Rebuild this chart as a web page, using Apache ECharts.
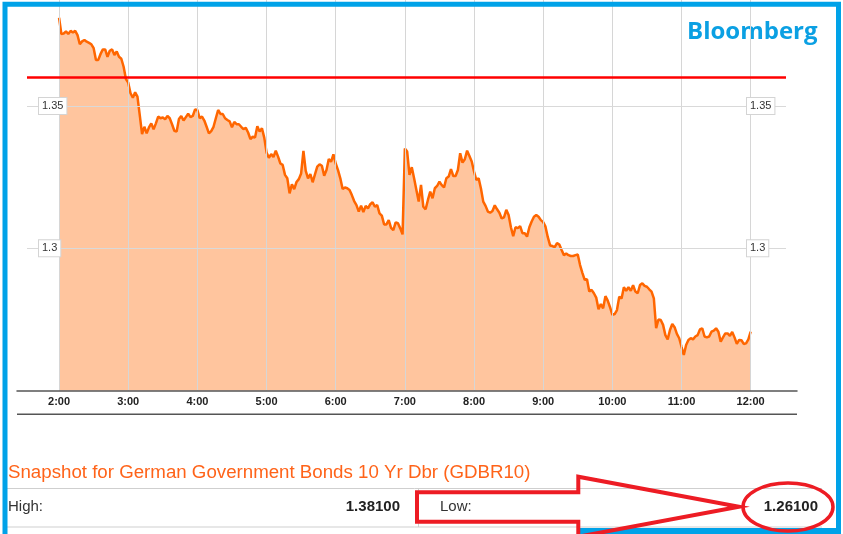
<!DOCTYPE html>
<html><head><meta charset="utf-8">
<script src="https://cdn.jsdelivr.net/npm/echarts@6/dist/echarts.min.js"></script>
<style>html,body{margin:0;padding:0;background:#fff;}#c{width:843px;height:534px;}</style>
</head><body><div id="c"></div>
<script>
// ---- data ----
const startMinute = 120;   // 2:00
const stepMinutes = 2;
const yields = [
1.3810,1.3753,1.3755,1.3762,1.3753,1.3764,1.3758,1.3764,1.3749,1.3717,
1.3727,1.3732,1.3726,1.3722,1.3717,1.3703,1.3662,1.3662,1.3683,1.3699,
1.3699,1.3673,1.3694,1.3699,1.3679,1.3692,1.3673,1.3666,1.3638,1.3595,
1.3582,1.3545,1.3529,1.3548,1.3533,1.3468,1.3401,1.3427,1.3404,1.3425,
1.3439,1.3418,1.3439,1.3463,1.3457,1.3460,1.3453,1.3465,1.3457,1.3436,
1.3413,1.3410,1.3454,1.3465,1.3449,1.3461,1.3473,1.3461,1.3465,1.3488,
1.3486,1.3457,1.3463,1.3449,1.3427,1.3404,1.3412,1.3427,1.3457,1.3486,
1.3472,1.3472,1.3457,1.3451,1.3446,1.3425,1.3444,1.3436,
1.3436,1.3427,1.3419,1.3423,1.3407,1.3384,1.3392,1.3389,1.3429,1.3410,
1.3422,1.3389,1.3337,1.3318,1.3331,1.3321,1.3343,1.3322,1.3298,1.3293,
1.3258,1.3246,1.3193,1.3225,1.3208,1.3233,1.3243,1.3263,1.3342,1.3272,
1.3246,1.3261,1.3232,1.3260,1.3287,1.3295,1.3290,1.3255,1.3275,1.3314,
1.3304,1.3330,1.3298,1.3275,1.3246,1.3208,1.3214,1.3211,1.3205,1.3187,
1.3166,1.3152,1.3129,1.3150,1.3127,1.3149,1.3140,1.3155,1.3162,1.3146,
1.3152,1.3123,1.3115,1.3084,1.3084,1.3099,1.3072,1.3064,1.3091,1.3088,
1.3070,1.3049,1.3351,
1.3340,1.3258,1.3285,1.3246,1.3205,1.3164,1.3223,1.3146,1.3137,1.3170,
1.3199,1.3176,1.3211,1.3219,1.3234,1.3222,1.3214,1.3246,1.3252,1.3278,
1.3254,1.3254,1.3275,1.3334,1.3301,1.3313,1.3343,1.3324,1.3305,1.3270,
1.3240,1.3246,1.3210,1.3164,1.3149,1.3129,1.3125,1.3131,1.3151,1.3137,
1.3125,1.3105,1.3109,1.3135,1.3117,1.3074,1.3043,1.3074,1.3071,1.3078,
1.3053,1.3053,1.3041,1.3074,1.3094,1.3111,1.3117,1.3111,1.3099,1.3092,
1.3076,1.3039,1.3010,1.3008,1.3004,1.3018,1.3013,1.2994,1.2976,1.2982,
1.2976,1.2973,1.2973,
1.2976,1.2978,1.2941,1.2914,1.2889,1.2891,1.2848,1.2854,1.2842,1.2827,
1.2786,1.2804,1.2789,1.2832,1.2816,1.2793,1.2766,1.2769,1.2783,1.2830,
1.2824,1.2863,1.2851,1.2863,1.2851,1.2870,1.2848,1.2842,1.2871,1.2877,
1.2868,1.2865,1.2856,1.2848,1.2824,1.2719,1.2750,1.2748,1.2731,1.2695,
1.2680,1.2713,1.2734,1.2723,1.2699,1.2684,1.2654,1.2625,1.2660,1.2678,
1.2684,1.2680,1.2690,1.2695,1.2715,1.2719,1.2690,1.2687,1.2690,1.2707,
1.2711,1.2719,1.2707,1.2672,1.2687,1.2701,1.2701,1.2692,1.2706,1.2687,
1.2664,1.2678,1.2677,1.2664,1.2666,1.2680,1.2707
];
const hourTicks = [120,180,240,300,360,420,480,540,600,660,720];
const hourLabels = ['2:00','3:00','4:00','5:00','6:00','7:00','8:00','9:00','10:00','11:00','12:00'];
const yTicks = [1.3, 1.35];
const refLevel = 1.36;
const snapshotTitle = 'Snapshot for German Government Bonds 10 Yr Dbr (GDBR10)';
const highLabel = 'High:', highValue = '1.38100';
const lowLabel = 'Low:', lowValue = '1.26100';
const brand = 'Bloomberg';

// ---- chart ----
const font = "'Liberation Sans', Arial, sans-serif";
const seriesData = yields.map((v, i) => [startMinute + i * stepMinutes, v]);
const chart = echarts.init(document.getElementById('c'), null, {renderer: 'canvas'});
const yMin = 1.25, yMax = 1.38725;
const yLabelStyle = {
  inside: true, customValues: yTicks,
  color: '#333', fontSize: 11, fontFamily: font,
  backgroundColor: '#fff', borderColor: '#d4d4d4', borderWidth: 1, padding: [3, 3, 2, 3]
};
const red = '#ed1c24';
chart.setOption({
  animation: false,
  grid: [
    {left: 17, right: 46, top: 0, bottom: 143.4},
    {left: 27, right: 57, top: 0, bottom: 143.4}
  ],
  xAxis: [
    {gridIndex: 0, type: 'value', min: 83.5, max: 760.2, z: 4,
     axisLine: {show: true, lineStyle: {color: '#555', width: 1.5}},
     axisTick: {show: false, customValues: hourTicks},
     axisLabel: {customValues: hourTicks, formatter: v => hourLabels[hourTicks.indexOf(v)],
       color: '#222', fontWeight: 'bold', fontSize: 11, fontFamily: font, margin: 6},
     splitLine: {show: true, lineStyle: {color: '#d6d6d6', width: 1}}},
    {gridIndex: 1, type: 'value', min: 0, max: 1, show: false}
  ],
  yAxis: [
    {gridIndex: 0, type: 'value', min: yMin, max: yMax, show: false, splitLine: {show: false}},
    {gridIndex: 1, type: 'value', min: yMin, max: yMax, position: 'left', z: 8,
     axisLine: {show: false}, axisTick: {show: false, customValues: yTicks},
     axisLabel: Object.assign({margin: 12}, yLabelStyle),
     splitLine: {show: true, lineStyle: {color: '#d9d9d9', width: 1}}},
    {gridIndex: 1, type: 'value', min: yMin, max: yMax, position: 'right', z: 8,
     axisLine: {show: false}, axisTick: {show: false, customValues: yTicks},
     axisLabel: Object.assign({margin: 39, align: 'left'}, yLabelStyle),
     splitLine: {show: false}}
  ],
  series: [
    {type: 'line', xAxisIndex: 0, yAxisIndex: 0, data: seriesData, showSymbol: false, z: 3,
     lineStyle: {color: '#ff6600', width: 2.5},
     areaStyle: {color: '#ff6600', opacity: 0.38, origin: 'start'}},
    {type: 'line', xAxisIndex: 1, yAxisIndex: 1, data: [[0, refLevel], [1, refLevel]],
     showSymbol: false, z: 5, lineStyle: {color: '#ff0000', width: 2.5}}
  ],
  graphic: [
    {type: 'line', shape: {x1: 17, y1: 414.3, x2: 797, y2: 414.3}, style: {stroke: '#555', lineWidth: 1.5}},
    {type: 'text', left: 687, top: 20, style: {text: brand, fill: '#0ba0e3', font: "bold 24px 'Open Sans', sans-serif"}},
    {type: 'text', left: 8, top: 463, style: {text: snapshotTitle, fill: '#ff6319', font: "18.7px " + font}},
    {type: 'line', shape: {x1: 7, y1: 488.5, x2: 822, y2: 488.5}, style: {stroke: '#cfcfcf', lineWidth: 1}},
    {type: 'line', shape: {x1: 7, y1: 527, x2: 822, y2: 527}, style: {stroke: '#cfcfcf', lineWidth: 1}},
    {type: 'line', shape: {x1: 418.5, y1: 488.5, x2: 418.5, y2: 527}, style: {stroke: '#cfcfcf', lineWidth: 1}},
    {type: 'text', x: 8, y: 507, style: {text: highLabel, fill: '#333', font: "15px " + font, textVerticalAlign: 'middle'}},
    {type: 'text', x: 400, y: 507, style: {text: highValue, fill: '#222', font: "bold 15px " + font, textAlign: 'right', textVerticalAlign: 'middle'}},
    {type: 'text', x: 440, y: 507, style: {text: lowLabel, fill: '#333', font: "15px " + font, textVerticalAlign: 'middle'}},
    {type: 'text', x: 818, y: 507, style: {text: lowValue, fill: '#222', font: "bold 15px " + font, textAlign: 'right', textVerticalAlign: 'middle'}},
    {type: 'rect', shape: {x: 5, y: 4.2, width: 833.5, height: 600}, style: {fill: 'none', stroke: '#00a2e8', lineWidth: 5}, z: 50},
    {type: 'rect', shape: {x: 580, y: 528, width: 261, height: 6}, style: {fill: '#00a2e8'}, z: 50},
    {type: 'polygon', shape: {points: [[417, 492.3], [578.3, 492.3], [578.3, 476.7], [739, 506.7], [578.3, 536.7], [578.3, 521.7], [417, 521.7]]},
     style: {fill: 'none', stroke: red, lineWidth: 4}, z: 60},
    {type: 'ellipse', shape: {cx: 788, cy: 507, rx: 45, ry: 24}, style: {fill: 'none', stroke: red, lineWidth: 3.5}, z: 60}
  ]
});
</script></body></html>
